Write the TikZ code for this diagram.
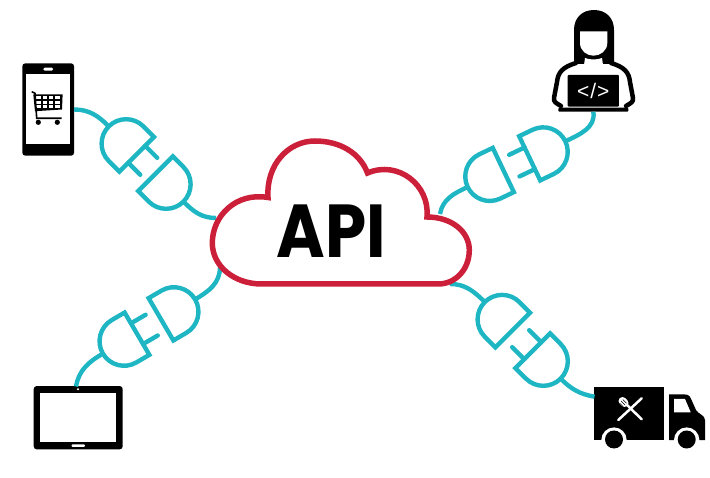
\documentclass[tikz,border=0pt]{standalone}
\usepackage{fontspec}
\usepackage{xcolor}
\usetikzlibrary{positioning, calc}
\newfontfamily\apifont[FakeStretch=0.88]{Poppins}
\newfontfamily\codefont{Liberation Sans}
\definecolor{CableTeal}{HTML}{1FB6C4}
\definecolor{CloudRed}{HTML}{CC1F3A}
\tikzset{
    cable/.style={draw=CableTeal, line width=4.4pt},
    cloudline/.style={draw=CloudRed, line width=5.5pt, fill=white, line join=miter},
    device/.style={fill=black, inner sep=0pt, outer sep=0pt, rounded corners=3pt},
    glass/.style={fill=white, inner sep=0pt, outer sep=0pt},
    plugbody/.pic={
        \coordinate (-tail) at (-39.5pt,0pt);
        \draw[cable] (0pt,24.5pt) -- (-15pt,24.5pt) arc (90:270:24.5pt) -- (0pt,-24.5pt) -- cycle;
    },
    plugmale/.pic={
        \coordinate (-tail) at (-39.5pt,0pt);
        \draw[cable] (0pt,24.5pt) -- (-15pt,24.5pt) arc (90:270:24.5pt) -- (0pt,-24.5pt) -- cycle;
        \draw[cable, line cap=round] (0pt,12pt) -- (17pt,12pt) (0pt,-12pt) -- (17pt,-12pt);
    }
}
\begin{document}
\begin{tikzpicture}[x=1pt, y=-1pt]
    \useasboundingbox (0,0) rectangle (710,478);
    \coordinate (cloudNW) at (216,218);
    \coordinate (cloudNE) at (440,214);
    \coordinate (cloudSW) at (220,267);
    \coordinate (cloudSE) at (450,284);
    \coordinate (truckport) at (594.5,396.7);
    \coordinate (tabletport) at (76,386.5);

    % phone
    \node[device, minimum width=51.7pt, minimum height=92.4pt] (phone) at (48.2,109.5) {};
    \node[glass, minimum width=44.3pt, minimum height=70pt] (phonescreen) at (48.2,109.3) {};
    \node[glass, rounded corners=1.5pt, minimum width=10pt, minimum height=3pt] (phonespeaker) at (48.2,69.2) {};
    \fill (33.3,94.5) -- (62.6,94.5) -- (62,109.5) -- (35,111.2) -- cycle;
    \foreach \i in {0,...,3} {
        \foreach \j in {0,...,2} {
            \fill[white] (36.4+6.2*\i,96.4+4.4*\j) rectangle +(4.5,3);
        }
    }
    \draw[line width=1.6pt] (31.7,91.7) -- (35,93.3) -- (36.7,118.3) -- (61.7,118.3);
    \fill (38.3,122.3) circle[radius=2.6pt] (57.3,122.3) circle[radius=2.6pt];

    % developer
    \draw[line width=4.5pt, line join=round, line cap=round]
        (576,63) .. controls (563,67) and (558,72) .. (557,82) -- (554,98) .. controls (553.5,102) and (556,103) .. (561,106)
        (611,63) .. controls (624,67) and (629,72) .. (630,82) -- (633,98) .. controls (633.5,102) and (631,103) .. (626,106);
    \fill (574,64) -- (574,30) .. controls (574,18) and (582,10) .. (594,10) .. controls (606,10) and (614,18) .. (614,30) -- (614,64) -- cycle;
    \fill[white] (580,31.5) -- (607.3,31.5) -- (607.3,43) .. controls (607.3,51) and (600,55.7) .. (593.5,55.7) .. controls (587,55.7) and (580,51) .. (580,43) -- cycle;
    \fill[white] (585,58) .. controls (590,60) and (597,60) .. (602,58) -- (603,65) -- (584,65) -- cycle;
    \node[device, rounded corners=1pt, minimum width=51.3pt, minimum height=31.7pt,
          text=white, font=\codefont\fontsize{21}{21}\selectfont] (laptop) at (593.3,90.8) {<\kern1pt/\kern1pt>};
    \node[device, rounded corners=1pt, minimum width=70pt, minimum height=4pt] (laptopbase) at (593.3,109.7) {};

    % tablet
    \node[device, minimum width=89pt, minimum height=63.3pt] (tablet) at (78.2,417.7) {};
    \node[glass, minimum width=76.3pt, minimum height=49.6pt] (tabletscreen) at (78.2,417.5) {};
    \node[glass, circle, minimum size=2.2pt] (tabletcamera) at (78,389.2) {};
    \node[glass, rounded corners=1pt, minimum width=13.3pt, minimum height=2.7pt] (tablethome) at (78.3,445.6) {};

    % truck
    \node[fill=black, inner sep=0pt, outer sep=0pt, minimum width=70pt, minimum height=52.7pt] (truck) at (629,413.7) {};
    \fill (669,440) -- (669,394.3) -- (684,394.3) .. controls (690,394.3) and (691,398) .. (692,401) -- (696,410) .. controls (698,414) and (705,415) .. (705,420) -- (705,440) -- cycle;
    \fill[white] (674,399) -- (685,399) -- (690.7,412.3) -- (674,412.3) -- cycle;
    \foreach \wheelx in {614,686.7} {
        \fill[white] (\wheelx,440.1) circle[radius=12.7pt];
        \fill (\wheelx,439.5) circle[radius=9pt];
    }
    \draw[white, line width=2.5pt, line cap=round] (618.3,420) -- (641.7,398.3);
    \draw[white, line width=2.5pt, line cap=round] (641.7,419.3) -- (627,405);
    \draw[white, line width=8pt, line cap=round] (622.5,401) -- (624.5,403);
    \draw[line width=.6pt] (619.5,403) -- (623,406.5) (621,401) -- (625,405) (622.8,399.5) -- (626.5,403.2);

    % plugs
    \pic (phonemale) at (136.7,154.3) [rotate=-45] {plugmale};
    \pic (phonefemale) at (155.5,173.7) [rotate=135] {plugbody};
    \pic (laptopmale) at (529.7,158.3) [rotate=205.5] {plugmale};
    \pic (laptopfemale) at (503.3,170) [rotate=25.5] {plugbody};
    \pic (tabletmale) at (137,333.7) [rotate=30.3] {plugmale};
    \pic (tabletfemale) at (161,319.3) [rotate=210.3] {plugbody};
    \pic (truckfemale) at (512.7,330) [rotate=-45] {plugbody};
    \pic (truckmale) at (532.7,350.7) [rotate=135] {plugmale};

    \draw[cable] (phone.east) to[out=0, in=135] (phonemale-tail);
    \draw[cable] (phonefemale-tail) to[out=-45, in=180] (cloudNW);
    \draw[cable] (laptopbase.south) to[out=-80, in=25] (laptopmale-tail);
    \draw[cable] (laptopfemale-tail) to[out=205, in=80] (cloudNE);
    \draw[cable] (tabletport) to[out=80, in=210] (tabletmale-tail);
    \draw[cable] (tabletfemale-tail) to[out=30, in=-90] (cloudSW);
    \draw[cable] (truckfemale-tail) to[out=135, in=0] (cloudSE);
    \draw[cable] (truckmale-tail) to[out=-45, in=170] (truckport);

    % cloud
    \draw[cloudline] (261.7,284) .. controls (234,284) and (212.3,266) .. (212.3,243)
        .. controls (212.3,216) and (236,192) .. (268,197.5)
        .. controls (266,165) and (288,141) .. (315,141)
        .. controls (340,141) and (360,153) .. (367.5,173)
        .. controls (398,160) and (430,185) .. (427,217)
        .. controls (452,217) and (469.3,232) .. (469.3,250)
        .. controls (469.3,270) and (455,284) .. (438.3,284) -- cycle;
    \node[font=\apifont\bfseries\fontsize{75}{75}\selectfont] (api) at (331.2,231.2) {API};
\end{tikzpicture}
\end{document}
